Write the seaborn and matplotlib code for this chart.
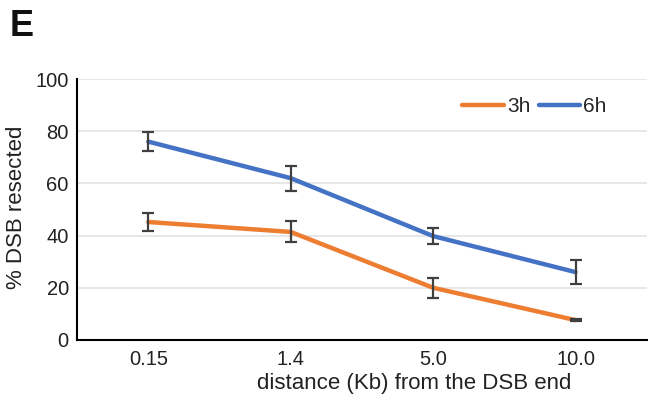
import matplotlib
matplotlib.use("Agg")
import matplotlib.pyplot as plt
import seaborn as sns
import pandas as pd

distances = ["0.15", "1.4", "5.0", "10.0"]
h3_values = [45.2, 41.4, 20.0, 7.6]
h3_errors = [3.5, 4.0, 3.8, 0.5]
h6_values = [76.0, 62.0, 39.8, 26.0]
h6_errors = [3.6, 4.8, 3.0, 4.5]

sns.set_theme(style="white")
plt.rcParams['font.family'] = ['Liberation Sans', 'DejaVu Sans']

df = pd.DataFrame({
    "distance": distances * 2,
    "value": h3_values + h6_values,
    "err": h3_errors + h6_errors,
    "time": ["3h"] * 4 + ["6h"] * 4,
})
palette = {"3h": "#ED7D31", "6h": "#4472C4"}

fig = plt.figure(figsize=(6.48, 3.99), dpi=100)
ax = fig.add_axes([0.119, 0.148, 0.879, 0.654])

sns.lineplot(data=df, x="distance", y="value", hue="time", palette=palette,
             linewidth=3.2, sort=False, ax=ax, zorder=3)
for t, sub in df.groupby("time"):
    ax.errorbar(sub["distance"], sub["value"], yerr=sub["err"], fmt="none",
                ecolor="#404040", elinewidth=1.6, capsize=4, capthick=1.6, zorder=4)

ax.set_xlim(-0.5, 3.5)
ax.set_ylim(0, 100)
ax.set_yticks([0, 20, 40, 60, 80, 100])
ax.grid(axis="y", color="#e3e3e3", linewidth=1.2)
ax.set_axisbelow(True)
for s in ["top", "right"]:
    ax.spines[s].set_visible(False)
for s in ["left", "bottom"]:
    ax.spines[s].set_color("black")
    ax.spines[s].set_linewidth(1.5)
ax.tick_params(axis="both", length=0, labelsize=14.5, colors="#222222")
ax.tick_params(axis="x", pad=7)
ax.tick_params(axis="y", pad=6)
ax.set_xlabel("distance (Kb) from the DSB end", fontsize=16, color="#222222")
ax.xaxis.set_label_coords(0.592, -0.125)
ax.set_ylabel("% DSB resected", fontsize=16, color="#222222")
ax.yaxis.set_label_coords(-0.088, 0.51)

leg = ax.legend(loc="center right", bbox_to_anchor=(0.93, 0.893), ncol=2, frameon=False,
                fontsize=15, handlelength=2.0, columnspacing=0.4, handletextpad=0.15,
                borderpad=0, borderaxespad=0)
for line in leg.get_lines():
    line.set_linewidth(3.2)

fig.text(0.015, 0.91, "E", fontsize=26, fontweight="bold", color="#111111")

fig.savefig("out.png", dpi=100)
